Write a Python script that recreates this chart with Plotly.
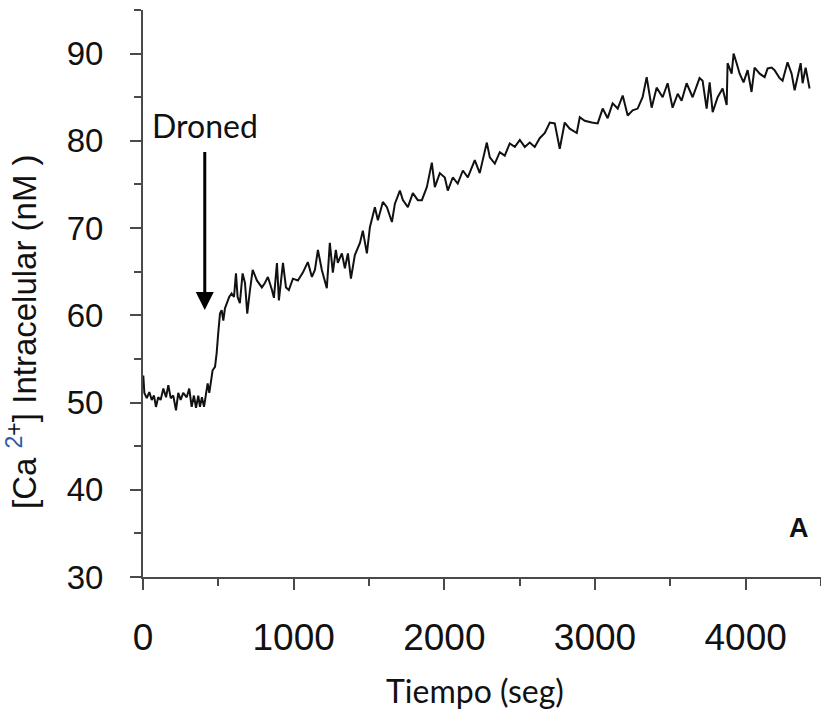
import plotly.graph_objects as go

# Time (s) and intracellular Ca2+ (nM)
time_s = [2, 9, 25, 42, 58, 73, 86, 101, 117, 135, 153, 168, 184, 201, 219, 234, 250, 267,
          290, 307, 323, 338, 352, 367, 378, 391, 405, 418, 429, 440, 451, 462, 478, 489,
          499, 511, 522, 533, 544, 559, 572, 588, 604, 617, 628, 643, 661, 677, 692, 710,
          728, 756, 789, 809, 829, 856, 869, 889, 902, 929, 949, 968, 995, 1028, 1061,
          1094, 1121, 1141, 1161, 1187, 1220, 1240, 1260, 1280, 1293, 1320, 1340, 1360,
          1380, 1406, 1426, 1440, 1459, 1486, 1506, 1539, 1559, 1592, 1619, 1652, 1672,
          1705, 1725, 1758, 1791, 1824, 1851, 1884, 1917, 1937, 1970, 2003, 2023, 2056,
          2089, 2123, 2156, 2189, 2202, 2235, 2282, 2302, 2335, 2368, 2401, 2434, 2468,
          2501, 2534, 2567, 2600, 2633, 2667, 2700, 2733, 2766, 2799, 2832, 2879, 2899,
          2932, 2978, 3018, 3051, 3084, 3117, 3151, 3184, 3217, 3250, 3283, 3316, 3343,
          3376, 3409, 3449, 3482, 3515, 3549, 3575, 3608, 3648, 3694, 3714, 3741, 3761,
          3781, 3814, 3847, 3874, 3880, 3907, 3920, 3940, 3960, 3986, 4013, 4039, 4059,
          4093, 4126, 4146, 4172, 4192, 4225, 4245, 4278, 4305, 4325, 4365, 4378, 4398,
          4424]
calcium_nM = [53.1, 51.1, 50.5, 51.2, 50.3, 50.8, 49.5, 50.6, 50.3, 51.6, 50.6, 52.0, 50.5,
              50.8, 49.1, 51.1, 50.3, 51.1, 50.6, 51.6, 49.5, 50.8, 49.4, 50.8, 49.5, 50.6,
              49.5, 51.1, 52.2, 51.1, 52.6, 53.7, 54.1, 55.7, 57.9, 60.2, 60.6, 59.4, 60.8,
              61.4, 62.1, 62.5, 62.1, 64.8, 62.1, 61.4, 64.8, 63.7, 60.2, 62.9, 65.2, 64.0,
              63.2, 63.7, 64.4, 62.9, 62.0, 66.0, 61.7, 66.0, 63.2, 62.9, 64.2, 64.0, 64.9,
              66.1, 64.4, 65.2, 67.5, 65.2, 63.1, 68.3, 64.9, 67.5, 66.0, 67.1, 65.4, 67.1,
              64.2, 66.9, 67.7, 68.3, 69.7, 67.1, 70.1, 72.4, 70.9, 73.0, 72.4, 70.7, 72.8,
              74.3, 73.2, 72.4, 74.0, 73.2, 73.2, 74.7, 77.5, 74.7, 76.3, 75.8, 74.3, 75.8,
              75.1, 76.6, 75.8, 77.4, 77.8, 76.3, 79.8, 78.1, 77.4, 78.7, 78.3, 79.7, 79.3,
              80.1, 79.3, 79.8, 79.3, 80.3, 80.9, 82.1, 82.0, 79.1, 82.1, 81.4, 80.9, 82.7,
              82.3, 82.1, 82.0, 83.7, 82.6, 84.3, 83.7, 85.2, 82.9, 83.5, 83.7, 85.0, 87.3,
              83.8, 86.1, 85.0, 86.6, 83.8, 85.4, 84.6, 86.6, 85.0, 87.2, 86.9, 83.7, 86.7,
              83.3, 85.0, 86.0, 84.1, 88.9, 87.7, 90.0, 88.9, 87.7, 86.7, 88.1, 85.6, 88.4,
              87.7, 87.3, 88.3, 88.4, 88.1, 87.2, 86.9, 89.0, 87.7, 85.8, 88.9, 86.6, 88.4,
              86.0]

x_ticks = [0, 1000, 2000, 3000, 4000]
y_ticks = [30, 40, 50, 60, 70, 80, 90]

axis_col = "#4a4a4a"
txt_col = "#111111"

fig = go.Figure()
fig.add_trace(go.Scatter(x=time_s, y=calcium_nM, mode="lines",
                         line=dict(color="#111111", width=2), showlegend=False))

fig.update_layout(
    width=821, height=715,
    margin=dict(l=143, r=0, t=10, b=138),
    paper_bgcolor="white", plot_bgcolor="white",
    xaxis=dict(range=[0, 4500], tickvals=x_ticks, ticktext=[str(v) for v in x_ticks],
               showgrid=False, zeroline=False, showline=True, linecolor=axis_col,
               linewidth=2, ticks="outside", ticklen=11, tickwidth=2, tickcolor=axis_col,
               ticklabelstandoff=16,
               tickfont=dict(family="Liberation Sans, Arial", size=37, color=txt_col),
               minor=dict(dtick=500, tick0=0, ticks="outside", ticklen=7, tickwidth=2,
                          tickcolor=axis_col)),
    yaxis=dict(range=[30, 95], tickvals=y_ticks, ticktext=[str(v) for v in y_ticks],
               showgrid=False, zeroline=False, showline=True, linecolor=axis_col,
               linewidth=2, ticks="outside", ticklen=11, tickwidth=2, tickcolor=axis_col,
               ticklabelstandoff=20,
               tickfont=dict(family="Liberation Sans, Arial", size=33, color=txt_col),
               minor=dict(dtick=5, tick0=30, ticks="outside", ticklen=7, tickwidth=2,
                          tickcolor=axis_col)),
)

# axis titles
fig.add_annotation(text="Tiempo (seg)", xref="paper", yref="paper",
                   x=(475 - 143) / 678, y=-(690 - 577) / 567, showarrow=False,
                   font=dict(family="Lato", size=32, color=txt_col),
                   xanchor="center", yanchor="middle")
fig.add_annotation(text="[Ca <sup><span style='color:#2a5db0'>2</span>+</sup>] Intracelular (nM )",
                   xref="paper", yref="paper",
                   x=-(143 - 22) / 678, y=(577 - 332) / 567, showarrow=False, textangle=-90,
                   font=dict(family="Liberation Sans, Arial", size=33, color=txt_col),
                   xanchor="center", yanchor="middle")

# Droned label and arrow
fig.add_annotation(text="Droned", x=410, y=81.8, xref="x", yref="y", showarrow=False,
                   font=dict(family="Lato", size=32, color=txt_col),
                   xanchor="center", yanchor="middle")
fig.add_annotation(x=410, y=60.6, ax=410, ay=78.9, xref="x", yref="y", axref="x", ayref="y",
                   showarrow=True, arrowhead=2, arrowsize=1.2, arrowwidth=3,
                   arrowcolor="#000000", text="")

# panel letter
fig.add_annotation(text="<b>A</b>", x=4357, y=35.6, xref="x", yref="y", showarrow=False,
                   font=dict(family="Liberation Sans, Arial", size=27, color=txt_col),
                   xanchor="center", yanchor="middle")

fig.write_html("out.html")
